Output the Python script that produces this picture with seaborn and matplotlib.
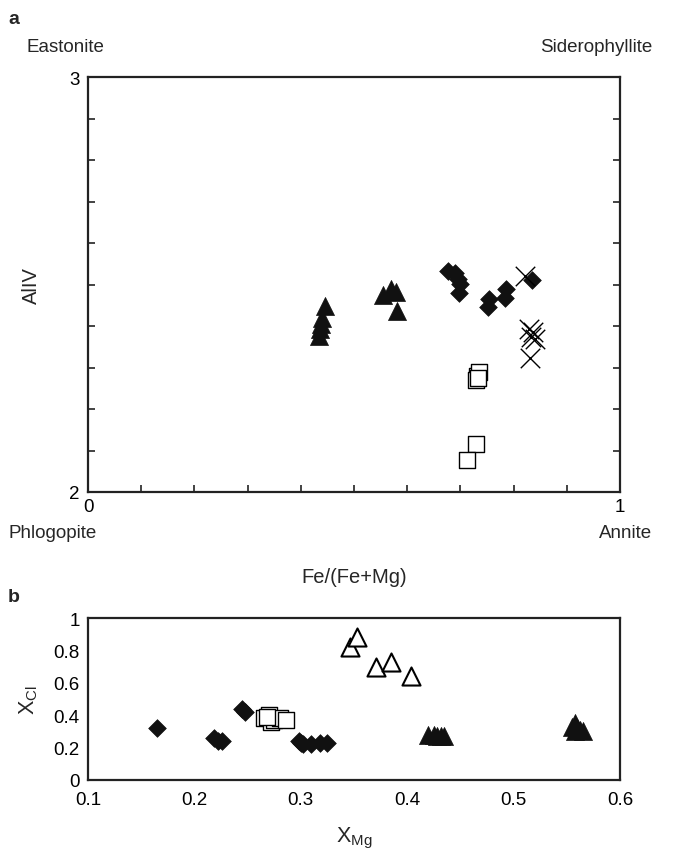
import matplotlib
matplotlib.use("Agg")
import matplotlib.pyplot as plt
import seaborn as sns
import pandas as pd

sns.set_style("white")
plt.rcParams['font.family'] = ['Liberation Sans', 'DejaVu Sans']

# ---- Panel a data: Fe/(Fe+Mg) vs AlIV ----
a_tri_x = [0.445, 0.440, 0.438, 0.436, 0.434, 0.555, 0.570, 0.579, 0.581]
a_tri_y = [2.448, 2.420, 2.405, 2.393, 2.376, 2.475, 2.489, 2.482, 2.436]
a_dia_x = [0.677, 0.690, 0.695, 0.699, 0.697, 0.754, 0.752, 0.786, 0.784, 0.835]
a_dia_y = [2.533, 2.528, 2.513, 2.501, 2.480, 2.465, 2.446, 2.489, 2.467, 2.511]
a_crs_x = [0.821, 0.829, 0.836, 0.833, 0.840, 0.831]
a_crs_y = [2.520, 2.393, 2.386, 2.373, 2.369, 2.323]
a_sq_x = [0.731, 0.735, 0.729, 0.733, 0.729, 0.712]
a_sq_y = [2.280, 2.289, 2.270, 2.275, 2.116, 2.077]

# ---- Panel b data: X_Mg vs X_Cl ----
b_dia_x = [0.165, 0.218, 0.222, 0.226, 0.245, 0.248, 0.298, 0.302, 0.310, 0.318, 0.325, 0.300]
b_dia_y = [0.32, 0.26, 0.24, 0.24, 0.44, 0.42, 0.24, 0.22, 0.22, 0.23, 0.23, 0.23]
b_sq_x = [0.265, 0.270, 0.272, 0.275, 0.280, 0.268, 0.286]
b_sq_y = [0.38, 0.40, 0.36, 0.37, 0.38, 0.39, 0.37]
b_otri_x = [0.346, 0.353, 0.371, 0.385, 0.404]
b_otri_y = [0.82, 0.88, 0.70, 0.73, 0.64]
b_ftri_x = [0.420, 0.425, 0.428, 0.432, 0.435, 0.555, 0.558, 0.560, 0.562, 0.565, 0.558]
b_ftri_y = [0.28, 0.28, 0.27, 0.27, 0.27, 0.33, 0.35, 0.32, 0.31, 0.30, 0.30]

W, H = 688, 854
fig = plt.figure(figsize=(W / 100, H / 100), dpi=100)

def frac(x0, y0, x1, y1):
    return [x0 / W, 1 - y1 / H, (x1 - x0) / W, (y1 - y0) / H]

axa = fig.add_axes(frac(88, 78, 620, 493))
axb = fig.add_axes(frac(88, 619, 620, 781))

def sc(ax, xs, ys, marker, size, fill=True, lw=1.0):
    df = pd.DataFrame({"x": xs, "y": ys})
    if marker == 'x':
        sns.scatterplot(data=df, x="x", y="y", ax=ax, marker='x', s=size ** 2,
                        color='black', linewidth=lw, zorder=3)
    elif fill:
        sns.scatterplot(data=df, x="x", y="y", ax=ax, marker=marker, s=size ** 2,
                        color='#111111', edgecolor='#111111', linewidth=0.5, zorder=3)
    else:
        sns.scatterplot(data=df, x="x", y="y", ax=ax, marker=marker, s=size ** 2,
                        facecolor='white', edgecolor='black', linewidth=lw, zorder=3)

TICK = 13.5
LAB = 14.5
ANN = 13.5

# Panel a
sc(axa, a_tri_x, a_tri_y, '^', 13)
sc(axa, a_dia_x, a_dia_y, 'D', 9)
sc(axa, a_crs_x, a_crs_y, 'x', 14, lw=1.0)
sc(axa, a_sq_x, a_sq_y, 's', 12, fill=False, lw=1.0)

axa.set_xlim(0, 1)
axa.set_ylim(2, 3)
axa.set_xticks([i / 10 for i in range(11)])
axa.set_xticklabels(['0'] + [''] * 9 + ['1'])
axa.set_yticks([2 + i / 10 for i in range(11)])
axa.set_yticklabels(['2'] + [''] * 9 + ['3'])
axa.tick_params(axis='both', direction='in', length=5, width=1.2, labelsize=TICK,
                colors='#222222', labelcolor='black')
axa.tick_params(axis='y', right=True, left=True, pad=6)
axa.tick_params(axis='x', bottom=True, top=False, pad=4)
axa.set_xlabel('Fe/(Fe+Mg)', fontsize=LAB, labelpad=38)
axa.set_ylabel('AlIV', fontsize=LAB, labelpad=20)
for s in axa.spines.values():
    s.set_linewidth(1.6)
    s.set_color('#222222')

fig.text(8 / W, 1 - 20 / H, 'a', fontsize=14, fontweight='bold', va='center')
fig.text(26 / W, 1 - 48 / H, 'Eastonite', fontsize=ANN, va='center')
fig.text(652 / W, 1 - 48 / H, 'Siderophyllite', fontsize=ANN, va='center', ha='right')
fig.text(8 / W, 1 - 533 / H, 'Phlogopite', fontsize=ANN, va='center')
fig.text(652 / W, 1 - 533 / H, 'Annite', fontsize=ANN, va='center', ha='right')

# Panel b
sc(axb, b_dia_x, b_dia_y, 'D', 9)
sc(axb, b_sq_x, b_sq_y, 's', 11, fill=False, lw=1.0)
sc(axb, b_otri_x, b_otri_y, '^', 13, fill=False, lw=1.5)
sc(axb, b_ftri_x, b_ftri_y, '^', 13)

axb.set_xlim(0.1, 0.6)
axb.set_ylim(0, 1)
axb.set_xticks([0.1, 0.2, 0.3, 0.4, 0.5, 0.6])
axb.set_xticklabels(['0.1', '0.2', '0.3', '0.4', '0.5', '0.6'])
axb.set_yticks([0, 0.2, 0.4, 0.6, 0.8, 1.0])
axb.set_yticklabels(['0', '0.2', '0.4', '0.6', '0.8', '1'])
axb.tick_params(axis='both', direction='in', length=5, width=1.2, labelsize=TICK,
                colors='#222222', labelcolor='black')
axb.tick_params(axis='x', pad=8)
axb.tick_params(axis='y', pad=6)
axb.set_xlabel(r'X$_{\mathregular{Mg}}$', fontsize=LAB + 1, labelpad=12)
axb.set_ylabel(r'X$_{\mathregular{Cl}}$', fontsize=LAB + 1, labelpad=10)
for s in axb.spines.values():
    s.set_linewidth(1.6)
    s.set_color('#222222')

fig.text(8 / W, 1 - 597 / H, 'b', fontsize=14, fontweight='bold', va='center')

fig.savefig('out.png', dpi=100)
